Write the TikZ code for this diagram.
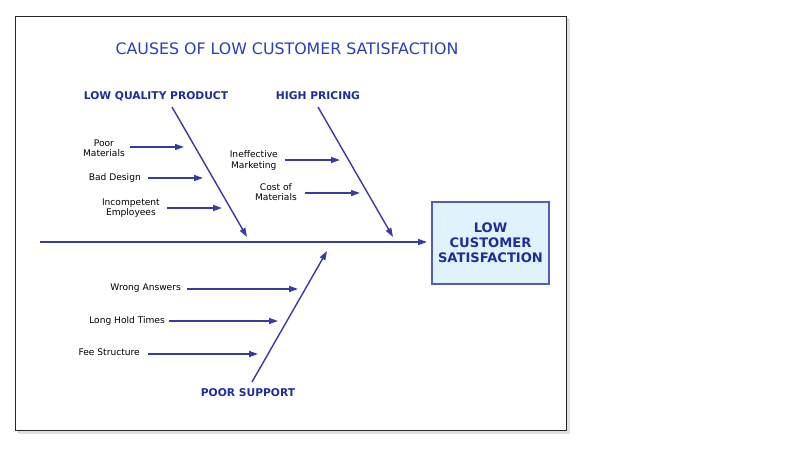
\documentclass[tikz,border=0pt]{standalone}
\usepackage{fontspec}
\setmainfont{DejaVu Sans}
\usetikzlibrary{arrows.meta}
\definecolor{titleblue}{HTML}{2B40B4}
\definecolor{labelblue}{HTML}{1E2E96}
\definecolor{lineblue}{HTML}{3A3AA0}
\definecolor{boxfill}{HTML}{E0F3FD}
\definecolor{boxline}{HTML}{5060B8}
\tikzset{
  bone/.style={draw=lineblue, line width=1.4pt, -{Triangle[length=9pt,width=6pt]}},
  cause/.style={font=\fontsize{9.1}{10.5}\selectfont, text=black, align=center, inner sep=0pt, anchor=east},
  catlabel/.style={font=\fontsize{10.7}{12}\selectfont\bfseries, text=labelblue, inner sep=0pt},
}
\begin{document}
\begin{tikzpicture}[x=1pt,y=-1pt]
\useasboundingbox (0,0) rectangle (796,450);
% frame with shadow
\fill[black!25] (18,19) rectangle (569,433);
\fill[black!12] (19,20) rectangle (570,434);
\draw[fill=white, draw=black!85, line width=1pt] (15,16) rectangle (566,430);
% title
\node[font=\fontsize{15.8}{18}\selectfont, text=titleblue, inner sep=0pt] (title) at (287,49) {CAUSES OF LOW CUSTOMER SATISFACTION};
% effect box
\node[draw=boxline, fill=boxfill, line width=1.2pt, minimum width=117pt, minimum height=82pt, inner sep=0pt,
      align=center, font=\fontsize{13.1}{15.2}\selectfont\bfseries, text=labelblue] (effect) at (490.5,243) {LOW\\CUSTOMER\\SATISFACTION};
% spine
\coordinate (spineS) at (40,242);
\coordinate (spineE) at (427,242);
\draw[bone] (spineS) -- (spineE);
% category labels
\node[catlabel] (lqp) at (156,96) {LOW QUALITY PRODUCT};
\node[catlabel] (hp) at (318,96) {HIGH PRICING};
\node[catlabel] (ps) at (248,393) {POOR SUPPORT};
% main bones
\coordinate (lqpS) at (172,107); \coordinate (lqpE) at (247,237);
\coordinate (hpS) at (318,107);  \coordinate (hpE) at (393,237);
\coordinate (psS) at (252,382);  \coordinate (psE) at (327,251);
\draw[bone] (lqpS) -- (lqpE);
\draw[bone] (hpS) -- (hpE);
\draw[bone] (psS) -- (psE);
% low quality product causes
\node[cause] (c1) at (125,148) {Poor\\Materials};
\node[cause] (c2) at (141,178) {Bad Design};
\node[cause] (c3) at (160,208) {Incompetent\\Employees};
\coordinate (c1s) at (130,147); \coordinate (c1e) at (184,147);
\coordinate (c2s) at (148,178); \coordinate (c2e) at (203,178);
\coordinate (c3s) at (167,208); \coordinate (c3e) at (222,208);
\draw[bone] (c1s) -- (c1e);
\draw[bone] (c2s) -- (c2e);
\draw[bone] (c3s) -- (c3e);
% high pricing causes
\node[cause] (c4) at (278,160.5) {Ineffective\\Marketing};
\node[cause] (c5) at (297,192) {Cost of\\Materials};
\coordinate (c4s) at (285,160); \coordinate (c4e) at (340,160);
\coordinate (c5s) at (305,193); \coordinate (c5e) at (360,193);
\draw[bone] (c4s) -- (c4e);
\draw[bone] (c5s) -- (c5e);
% poor support causes
\node[cause] (c6) at (181,288) {Wrong Answers};
\node[cause] (c7) at (165,320.5) {Long Hold Times};
\node[cause] (c8) at (140,352.5) {Fee Structure};
\coordinate (c6s) at (187,289); \coordinate (c6e) at (298,289);
\coordinate (c7s) at (169,321); \coordinate (c7e) at (278,321);
\coordinate (c8s) at (148,354); \coordinate (c8e) at (258,354);
\draw[bone] (c6s) -- (c6e);
\draw[bone] (c7s) -- (c7e);
\draw[bone] (c8s) -- (c8e);
\end{tikzpicture}
\end{document}
